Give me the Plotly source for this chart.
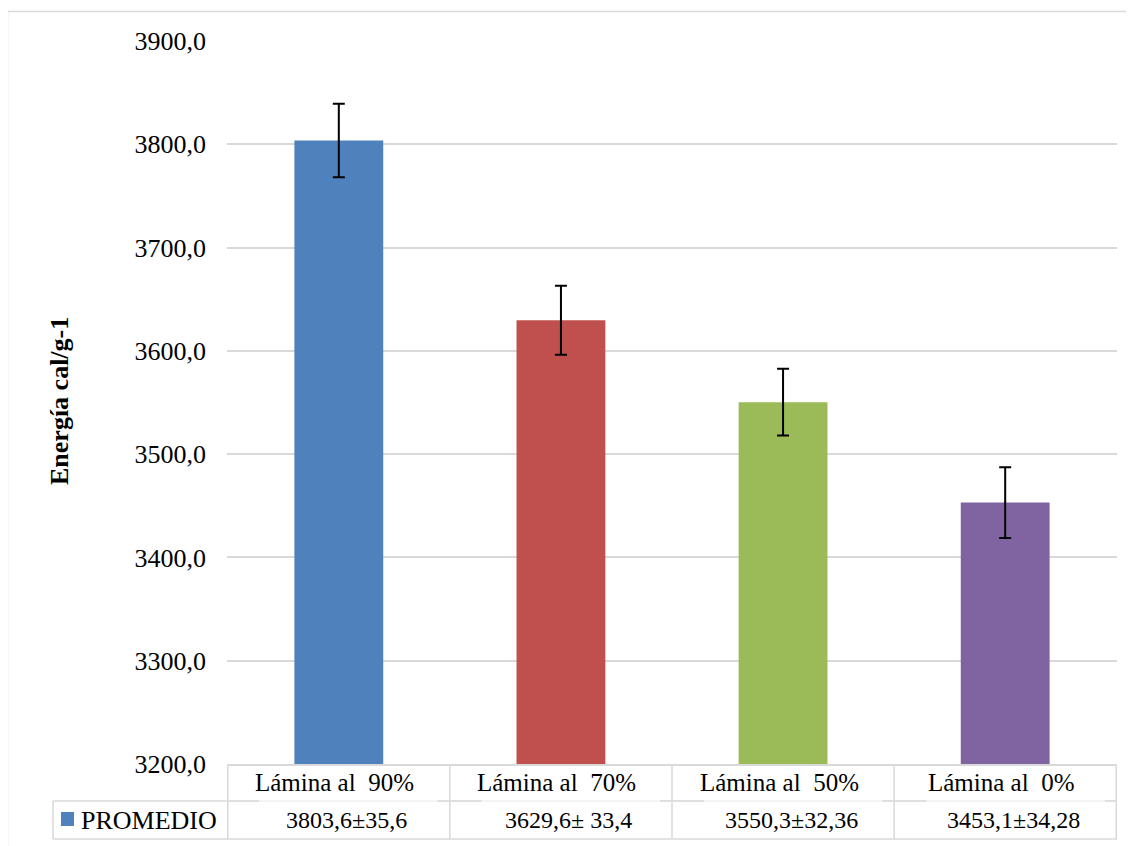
import plotly.graph_objects as go

categories = ["Lámina al  90%", "Lámina al  70%", "Lámina al  50%", "Lámina al  0%"]
means = [3803.6, 3629.6, 3550.3, 3453.1]
errors = [35.6, 33.4, 32.36, 34.28]
table_values = ["3803,6±35,6", "3629,6± 33,4", "3550,3±32,36", "3453,1±34,28"]
series_name = "PROMEDIO"
y_title = "Energía cal/g-1"
colors = ["#4F81BD", "#C0504D", "#9BBB59", "#8064A2"]

OFF = 8  # page body margin
W, H = 1134 - OFF, 846 - OFF
L = 227 - OFF
R = W - (1117 - OFF)
T = 41 - OFF
B = H - (764 - OFF)
PW, PH = W - L - R, H - T - B
FONT = "Liberation Serif, Times New Roman, serif"
GRID = "#d9d9d9"


def px(xr):
    """reference-image x pixel -> paper coordinate"""
    return (xr - OFF - L) / PW


def py(yr):
    """reference-image y pixel -> paper coordinate"""
    return (H - B - (yr - OFF)) / PH


fig = go.Figure()
fig.add_trace(go.Bar(
    x=categories, y=means, name=series_name,
    marker=dict(color=colors, line=dict(width=0)),
    error_y=dict(type="data", array=errors, visible=True, color="black", thickness=2, width=6),
    showlegend=False,
))

shapes = []
# outer chart border
shapes.append(dict(type="rect", xref="paper", yref="paper", x0=px(7.5), x1=px(1160), y0=py(880), y1=py(11.5),
                   line=dict(color=GRID, width=1.5), fillcolor="rgba(0,0,0,0)", layer="below"))
# table lines
y_row1_top, y_sep, y_bot = py(764), py(801), py(839)
n = len(categories)
for i in range(n + 1):
    shapes.append(dict(type="line", xref="x", yref="paper", x0=i - 0.5, x1=i - 0.5, y0=y_bot, y1=y_row1_top,
                       line=dict(color=GRID, width=1.5)))
# legend cell
shapes.append(dict(type="line", xref="paper", yref="paper", x0=px(53), x1=px(53), y0=y_bot, y1=y_sep,
                   line=dict(color=GRID, width=1.5)))
shapes.append(dict(type="line", xref="paper", yref="paper", x0=px(53), x1=px(227), y0=y_sep, y1=y_sep,
                   line=dict(color=GRID, width=1.5)))
shapes.append(dict(type="line", xref="paper", yref="paper", x0=px(53), x1=1, y0=y_bot, y1=y_bot,
                   line=dict(color=GRID, width=1.5)))
# row separator (faint) + darker segments near cell borders
shapes.append(dict(type="line", xref="paper", yref="paper", x0=0, x1=1, y0=y_sep, y1=y_sep,
                   line=dict(color="#f0f0f0", width=1.5)))
cellw = PW / n
for i in range(n + 1):
    b = 227 + i * cellw
    x0 = max(227, b - 12)
    x1 = min(1117, b + 32)
    shapes.append(dict(type="line", xref="paper", yref="paper", x0=px(x0), x1=px(x1), y0=y_sep, y1=y_sep,
                       line=dict(color=GRID, width=1.5)))
# legend key square
shapes.append(dict(type="rect", xref="paper", yref="paper", x0=px(61), x1=px(74), y0=py(826), y1=py(812),
                   line=dict(width=0), fillcolor=colors[0]))

annotations = []
for c, v in zip(categories, table_values):
    annotations.append(dict(x=c, xref="x", y=py(782.5), yref="paper", text=c, showarrow=False, xshift=-4,
                            font=dict(family=FONT, size=25, color="black"), xanchor="center", yanchor="middle"))
    annotations.append(dict(x=c, xref="x", y=py(820), yref="paper", text=v, showarrow=False, xshift=8,
                            font=dict(family=FONT, size=24, color="black"), xanchor="center", yanchor="middle"))
annotations.append(dict(x=px(79), xref="paper", y=py(820), yref="paper", text=series_name, showarrow=False,
                        font=dict(family=FONT, size=26, color="black"), xanchor="left", yanchor="middle"))
annotations.append(dict(x=px(59), xref="paper", y=py(401), yref="paper", text="<b>" + y_title + "</b>",
                        showarrow=False, textangle=-90,
                        font=dict(family=FONT, size=26, color="black"), xanchor="center", yanchor="middle"))

fig.update_layout(
    width=W, height=H,
    margin=dict(l=L, r=R, t=T, b=B, autoexpand=False),
    paper_bgcolor="white", plot_bgcolor="white",
    separators=",.",
    bargap=0.6,
    font=dict(family=FONT, size=26, color="black"),
    xaxis=dict(showticklabels=False, showgrid=False, showline=True, linecolor=GRID, linewidth=1.5,
               ticks="", zeroline=False),
    yaxis=dict(range=[3200, 3900], dtick=100, tickformat=".1f", showgrid=True, gridcolor=GRID, gridwidth=1.5,
               showline=False, zeroline=False, ticks="", ticklabelstandoff=20,
               tickfont=dict(family=FONT, size=26, color="black")),
    shapes=shapes,
    annotations=annotations,
)

fig.write_html("out.html")
